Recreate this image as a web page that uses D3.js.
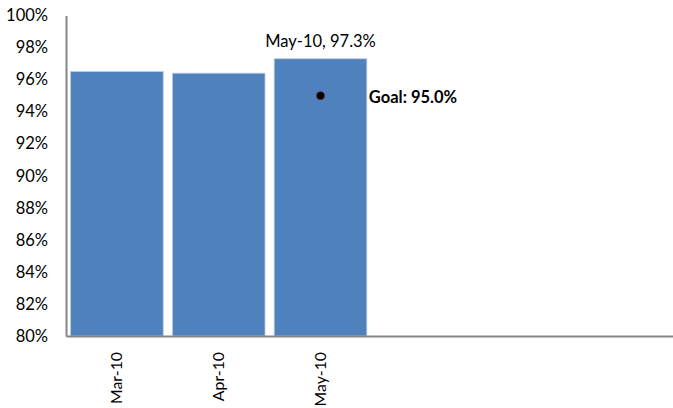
<!DOCTYPE html>
<html><head><meta charset="utf-8">
<script src="https://cdn.jsdelivr.net/npm/d3@7"></script>
<style>body{margin:0;background:#fff}svg{display:block}text{font-family:Lato,"Open Sans",sans-serif;fill:#000}</style>
</head><body>
<script>
const categories = ["Mar-10", "Apr-10", "May-10", "", " ", "  "];
const values = [96.5, 96.4, 97.3];
const goalCategory = "May-10";
const goalValue = 95.0;
const yTicks = [80, 82, 84, 86, 88, 90, 92, 94, 96, 98, 100];

(function () {
const W = 673, H = 408, FS = 16.5;
const svg = d3.select("body").append("svg").attr("width", W).attr("height", H);
const mLeft = 66, mTop = 15.5, mBottom = 336, step = 101.8;

const x = d3.scaleBand().domain(categories).range([mLeft, mLeft + step * categories.length])
  .paddingInner(0.09).paddingOuter(0.045);
const y = d3.scaleLinear().domain([80, 100]).range([mBottom, mTop]);

// bars
svg.selectAll("rect.bar").data(values).enter().append("rect")
  .attr("class", "bar")
  .attr("x", (d, i) => x(categories[i]))
  .attr("y", d => y(d))
  .attr("width", x.bandwidth())
  .attr("height", d => y(80) - y(d))
  .attr("fill", "#4F81BD")
  .attr("stroke", "#B9CDE5").attr("stroke-width", 0.8);

// y axis
const yAxis = d3.axisLeft(y).tickValues(yTicks).tickFormat(d => d + "%").tickSize(0).tickPadding(18);
const gy = svg.append("g").attr("transform", `translate(${mLeft},0)`).call(yAxis);
gy.select(".domain").attr("stroke", "#868686").attr("stroke-width", 2);
gy.selectAll("text").attr("font-size", FS).style("font-family", "Lato, 'Open Sans', sans-serif");

// x axis
const xAxis = d3.axisBottom(x).tickSize(0).tickSizeOuter(0);
const gx = svg.append("g").attr("transform", `translate(0,${mBottom})`).call(xAxis);
gx.select(".domain").attr("stroke", "#868686").attr("stroke-width", 2);
gx.selectAll("text").attr("font-size", 15.8).style("font-family", "Lato, 'Open Sans', sans-serif")
  .attr("transform", "rotate(-90)").attr("text-anchor", "end")
  .attr("x", -16).attr("y", 0).attr("dy", "0.35em");

// data label for last bar
const lastIdx = values.length - 1;
svg.append("text")
  .attr("x", x(categories[lastIdx]) + x.bandwidth() / 2)
  .attr("y", y(values[lastIdx]) - 12)
  .attr("text-anchor", "middle").attr("font-size", FS)
  .text(`${categories[lastIdx]}, ${values[lastIdx].toFixed(1)}%`);

// goal marker
const gxPos = x(goalCategory) + x.bandwidth() / 2;
svg.append("circle").attr("cx", gxPos).attr("cy", y(goalValue)).attr("r", 4)
  .attr("fill", "#000").attr("stroke", "#7a1f3a").attr("stroke-width", 0.8);
svg.append("text")
  .attr("x", x(goalCategory) + x.bandwidth() + 2)
  .attr("y", y(goalValue) + 2).attr("dy", "0.35em")
  .attr("font-size", FS).attr("font-weight", "bold")
  .text(`Goal: ${goalValue.toFixed(1)}%`);
})();
</script>
</body></html>
